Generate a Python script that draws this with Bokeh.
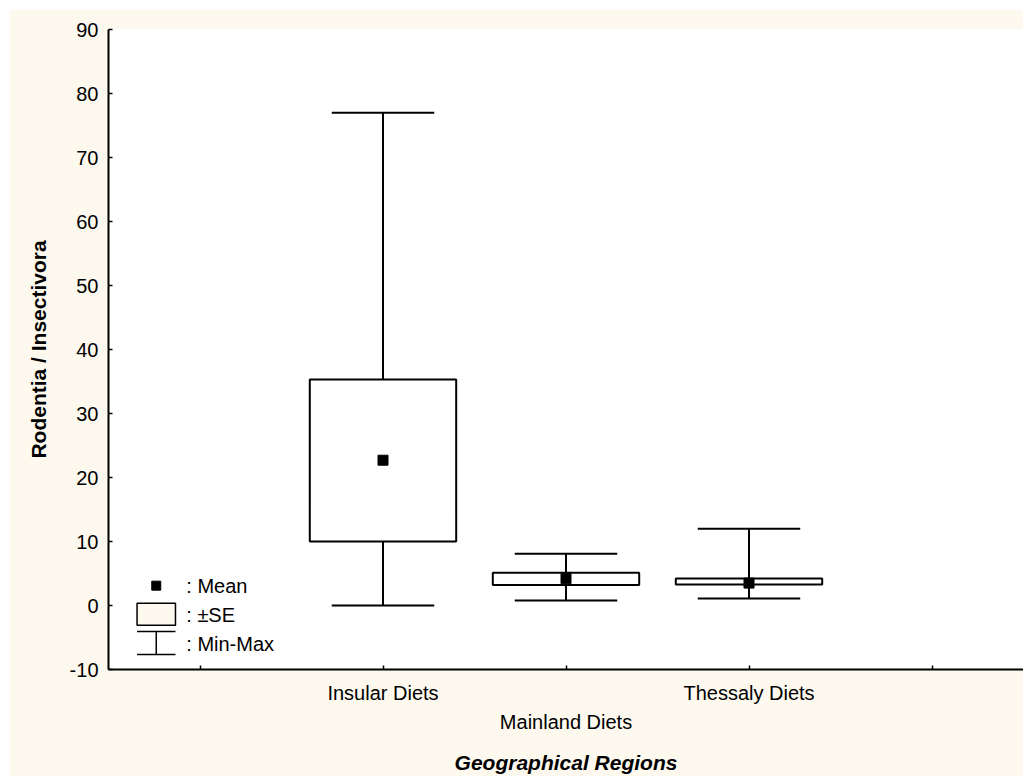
from bokeh.plotting import figure
from bokeh.models import FixedTicker, LinearAxis, Range1d, ColumnDataSource
from bokeh.core.properties import value
from bokeh.embed import file_html
from bokeh.resources import INLINE

# Rodentia / Insectivora ratio by geographical region
categories = ["Insular Diets", "Mainland Diets", "Thessaly Diets"]
positions = [1, 2, 3]
means = [22.7, 4.2, 3.5]
se_low = [10.0, 3.2, 3.3]
se_high = [35.3, 5.1, 4.2]
minimum = [0.0, 0.8, 1.1]
maximum = [77.0, 8.1, 12.0]
y_ticks = [-10, 0, 10, 20, 30, 40, 50, 60, 70, 80, 90]
x_ticks = [0, 1, 2, 3, 4]

CREAM = "#FDF9EF"
FONT = "Liberation Sans"

box_width = 0.8
cap_width = 0.56

src = ColumnDataSource(dict(
    x=positions,
    mean=means,
    lo=se_low,
    hi=se_high,
    mn=minimum,
    mx=maximum,
    cap_l=[x - cap_width / 2 for x in positions],
    cap_r=[x + cap_width / 2 for x in positions],
))

p = figure(
    width=1014, height=767,
    x_range=Range1d(-0.5, 4.5), y_range=Range1d(-10, 90),
    output_backend="svg", toolbar_location=None,
    x_axis_location=None, y_axis_location=None,
    min_border_left=99, min_border_right=0, min_border_top=20, min_border_bottom=107,
    border_fill_color=CREAM, background_fill_color="white",
    outline_line_color=None,
)
p.margin = (9, 0, 0, 9)
p.xgrid.visible = False
p.ygrid.visible = False

# y axis (plain hyphen for negative labels)
yaxis = LinearAxis(
    ticker=FixedTicker(ticks=y_ticks),
    axis_label="Rodentia / Insectivora",
)
yaxis.major_label_overrides = {t: str(t) for t in y_ticks}
yaxis.axis_line_width = 2
yaxis.major_tick_in = 4
yaxis.major_tick_out = 0
yaxis.major_tick_line_width = 1.5
yaxis.minor_tick_line_color = None
yaxis.major_label_standoff = 10
yaxis.major_label_text_font = FONT
yaxis.major_label_text_font_size = "20px"
yaxis.major_label_text_color = "black"
yaxis.axis_label_text_font = FONT
yaxis.axis_label_text_font_size = "21px"
yaxis.axis_label_text_font_style = "bold"
yaxis.axis_label_text_color = "black"
yaxis.axis_label_standoff = 17
p.add_layout(yaxis, "left")

# x axis with the first and third category names
xaxis = LinearAxis(ticker=FixedTicker(ticks=x_ticks))
xaxis.major_label_overrides = {t: "" for t in x_ticks}
xaxis.major_label_overrides.update({positions[0]: categories[0], positions[2]: categories[2]})
xaxis.axis_line_width = 2
xaxis.major_tick_in = 4
xaxis.major_tick_out = 0
xaxis.major_tick_line_width = 1.5
xaxis.minor_tick_line_color = None
xaxis.major_label_standoff = 12
xaxis.major_label_text_font = FONT
xaxis.major_label_text_font_size = "20px"
xaxis.major_label_text_color = "black"
p.add_layout(xaxis, "below")

# staggered second row carrying the middle category and the axis title
xaxis2 = LinearAxis(ticker=FixedTicker(ticks=[positions[1]]), axis_label="Geographical Regions")
xaxis2.major_label_overrides = {positions[1]: categories[1]}
xaxis2.axis_line_color = None
xaxis2.major_tick_line_color = None
xaxis2.minor_tick_line_color = None
xaxis2.major_tick_out = 0
xaxis2.major_tick_in = 0
xaxis2.major_label_standoff = 4
xaxis2.major_label_text_font = FONT
xaxis2.major_label_text_font_size = "20px"
xaxis2.major_label_text_color = "black"
xaxis2.axis_label_text_font = FONT
xaxis2.axis_label_text_font_size = "21px"
xaxis2.axis_label_text_font_style = "bold italic"
xaxis2.axis_label_text_color = "black"
xaxis2.axis_label_standoff = 15
p.add_layout(xaxis2, "below")

# whiskers (min-max) and caps
p.segment(x0="x", y0="mn", x1="x", y1="mx", source=src, line_color="black", line_width=2)
p.segment(x0="cap_l", y0="mx", x1="cap_r", y1="mx", source=src, line_color="black", line_width=2)
p.segment(x0="cap_l", y0="mn", x1="cap_r", y1="mn", source=src, line_color="black", line_width=2)

# +/- SE boxes
p.vbar(x="x", bottom="lo", top="hi", width=box_width, source=src,
       fill_color="white", line_color="black", line_width=2)

# means
p.scatter(x="x", y="mean", source=src, marker="square", size=10,
          fill_color="black", line_color="black")

# legend key in the lower-left corner of the plot area
key_x = -0.239
key_half = 0.105
text_x = -0.075
p.scatter(x=[key_x], y=[3.1], marker="square", size=9, fill_color="black", line_color="black")
p.quad(left=[key_x - key_half], right=[key_x + key_half], bottom=[-3.1], top=[0.35],
       fill_color=CREAM, line_color="black", line_width=1.5)
p.segment(x0=[key_x - key_half, key_x - key_half, key_x], y0=[-4.06, -7.66, -4.06],
          x1=[key_x + key_half, key_x + key_half, key_x], y1=[-4.06, -7.66, -7.66],
          line_color="black", line_width=1.5)
p.text(x=[text_x] * 3, y=[2.97, -1.56, -6.09], text=[": Mean", ": \u00b1SE", ": Min-Max"],
       text_font=value(FONT), text_font_size="20px", text_color="black",
       text_align="left", text_baseline="middle")

open("out.html", "w").write(file_html(p, INLINE))
